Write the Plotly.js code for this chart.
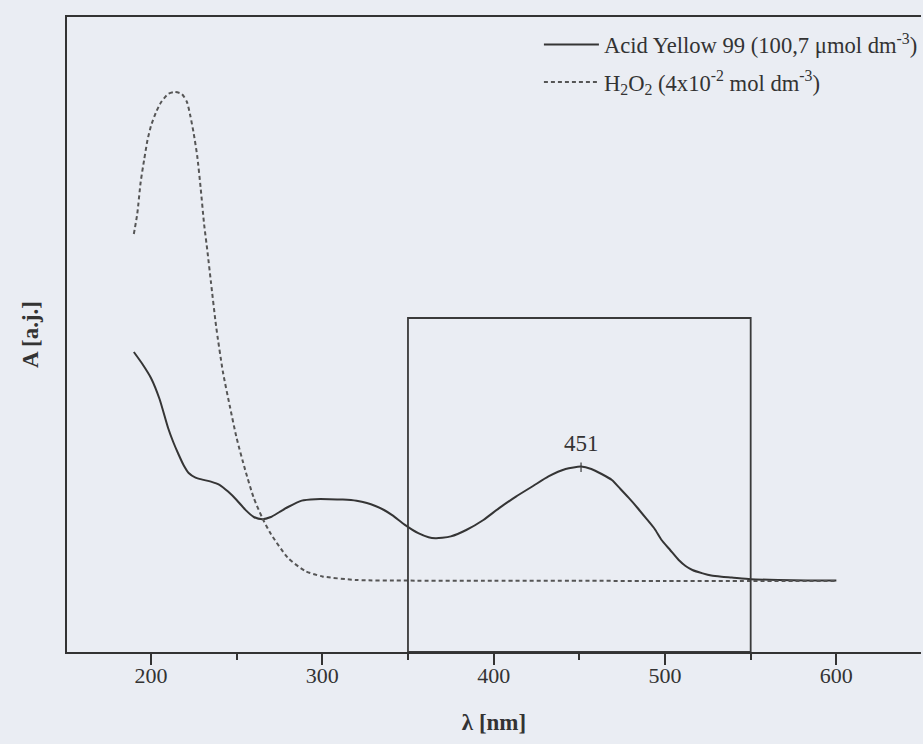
<!DOCTYPE html>
<html><head><meta charset="utf-8">
<script src="https://cdn.plot.ly/plotly-3.0.1.min.js"></script>
<style>html,body{margin:0;padding:0;background:#eaedf3}</style>
</head><body>
<div id="chart" style="width:923px;height:744px"></div>
<script>
// Acid Yellow 99 spectrum (wavelength nm, absorbance a.u.)
const wavelengthAY = [190,195,200,205,210,213,216,219,222,226,230,235,240,245,250,255,260,265,270,275,280,288,296,304,312,320,326,331,336,341,348,356,362,366,370,375,384,394,403,413,423,432,442,451,457,463,469,474,479,484,489,494,498,503,508,512,516,522,527,533,539,550,566,583,600];
const absorbanceAY = [1.50,1.44,1.37,1.265,1.12,1.05,0.99,0.935,0.895,0.872,0.862,0.852,0.836,0.802,0.76,0.712,0.675,0.664,0.675,0.70,0.725,0.757,0.764,0.764,0.762,0.756,0.745,0.73,0.71,0.683,0.637,0.594,0.574,0.569,0.571,0.578,0.61,0.66,0.718,0.777,0.83,0.878,0.915,0.927,0.915,0.89,0.86,0.815,0.769,0.72,0.668,0.615,0.56,0.51,0.46,0.43,0.41,0.393,0.382,0.376,0.372,0.364,0.36,0.358,0.357];
// H2O2 spectrum
const wavelengthH2O2 = [190,192,194,196,198,200,203,206,210,214,218,221,223,225,227,229,231,233,235,238,242,246,250,255,260,265,270,280,290,300,320,350,400,450,500,550,600];
const absorbanceH2O2 = [2.09,2.19,2.35,2.46,2.56,2.63,2.70,2.75,2.79,2.80,2.79,2.75,2.68,2.59,2.48,2.32,2.14,2.00,1.85,1.63,1.40,1.23,1.07,0.91,0.77,0.67,0.59,0.47,0.405,0.378,0.36,0.357,0.356,0.356,0.355,0.355,0.355];
const seriesNames = [
  'Acid Yellow 99 (100,7 \u03bcmol dm<sup>-3</sup>)',
  'H<sub>2</sub>O<sub>2</sub> (4x10<sup>-2</sup> mol dm<sup>-3</sup>)'
];
const xTickValues = [200,300,400,500,600];
const peakWavelength = 451;
const boxWavelengths = [350, 550];
const boxTopAbsorbance = 1.67;

const FONT = 'Liberation Serif, serif';
const peakIdx = wavelengthAY.indexOf(peakWavelength);
const peakA = absorbanceAY[peakIdx];

const traces = [
  {x: wavelengthAY, y: absorbanceAY, name: seriesNames[0], legendgroup: 'ay', mode: 'lines',
   line: {color: '#353535', width: 2, shape: 'spline', smoothing: 0.6}},
  {x: wavelengthH2O2, y: absorbanceH2O2, name: seriesNames[1], legendgroup: 'h2o2', mode: 'lines',
   line: {color: '#555555', width: 2, dash: '4px,3px', shape: 'spline', smoothing: 0.6}}
];

const layout = {
  width: 923, height: 744,
  margin: {l: 67, r: 0, t: 17, b: 92},
  paper_bgcolor: '#eaedf3', plot_bgcolor: '#eaedf3',
  font: {family: FONT, size: 22, color: '#333'},
  showlegend: true,
  legend: {xref: 'paper', yref: 'paper', x: 0.5526, y: 0.99, xanchor: 'left', yanchor: 'top',
    bgcolor: 'rgba(0,0,0,0)', itemwidth: 55, tracegroupgap: 5,
    font: {family: FONT, size: 22.6, color: '#333'}},
  xaxis: {range: [151, 649.4], showgrid: false, zeroline: false,
    showline: true, linecolor: '#333', linewidth: 2, mirror: true,
    ticks: 'outside', tickvals: xTickValues, ticklen: 11, tickwidth: 2, tickcolor: '#333',
    ticklabelstandoff: -8,
    minor: {dtick: 50, tick0: 0, ticks: 'outside', ticklen: 6, tickwidth: 2, tickcolor: '#333'},
    tickfont: {family: FONT, size: 22, color: '#333'},
    title: {text: '<b>\u03bb [nm]</b>', font: {family: FONT, size: 23, color: '#333'}, standoff: 26}},
  yaxis: {range: [0, 3.175], showgrid: false, zeroline: false,
    showline: true, linecolor: '#333', linewidth: 2, mirror: false,
    ticks: '', showticklabels: false,
    title: {text: '<b>A [a.j.]</b>', font: {family: FONT, size: 23, color: '#333'}, standoff: 20}},
  shapes: [
    {type: 'rect', xref: 'x', yref: 'y', x0: boxWavelengths[0], x1: boxWavelengths[1], y0: 0, y1: boxTopAbsorbance,
     line: {color: '#3a3a3a', width: 1.8}, fillcolor: 'rgba(0,0,0,0)'},
    {type: 'line', xref: 'x', yref: 'y', x0: peakWavelength, x1: peakWavelength, y0: peakA - 0.027, y1: peakA + 0.02,
     line: {color: '#3a3a3a', width: 1.2}}
  ],
  annotations: [
    {x: peakWavelength, y: peakA + 0.115, xref: 'x', yref: 'y', text: String(peakWavelength), showarrow: false,
     font: {family: FONT, size: 23, color: '#333'}, xanchor: 'center', yanchor: 'middle'}
  ]
};

Plotly.newPlot('chart', traces, layout, {displayModeBar: false});
</script>
</body></html>
